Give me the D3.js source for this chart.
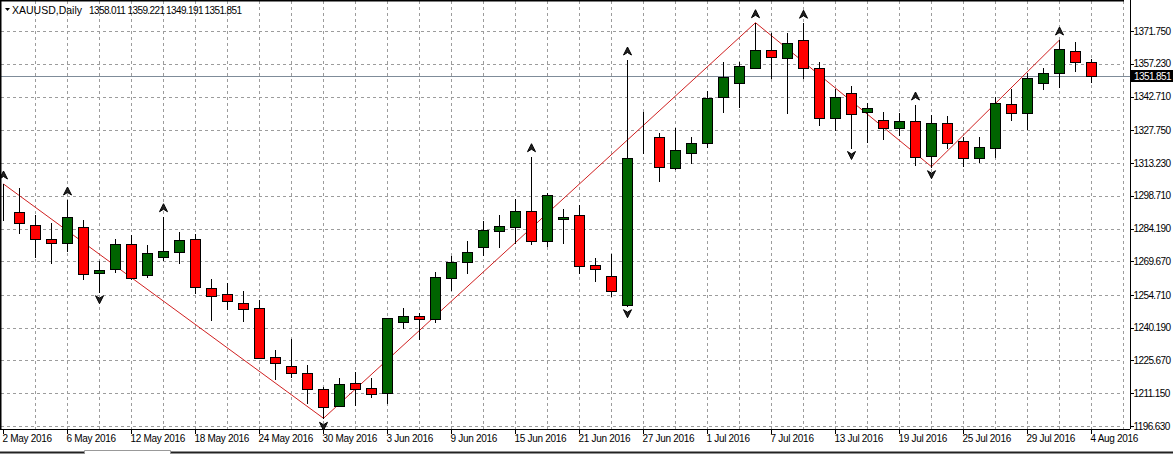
<!DOCTYPE html>
<html>
<head>
<meta charset="utf-8">
<script src="https://cdn.jsdelivr.net/npm/d3@7/dist/d3.min.js"></script>
<style>
  body { margin: 0; background: #fff; }
  svg { display: block; font-family: "Liberation Sans", Arial, sans-serif; }
</style>
</head>
<body>
<svg id="chart" width="1173" height="454"></svg>
<script>
// XAUUSD daily bars, 2 May 2016 .. 4 Aug 2016 (one per trading day)
var opens = [1291.50,1291.50,1285.61,1279.53,1277.63,1284.99,1264.33,1266.10,1277.19,1263.57,
  1271.69,1273.64,1279.40,1257.81,1255.02,1251.03,1248.81,1227.09,1223.23,1219.99,
  1212.90,1205.63,1215.56,1213.34,1211.13,1242.60,1245.40,1243.93,1262.11,1269.20,
  1275.85,1282.95,1284.99,1291.95,1278.78,1288.27,1290.04,1268.14,1263.26,1250.27,
  1324.45,1324.62,1310.88,1317.53,1321.96,1342.36,1348.56,1355.48,1363.33,1359.65,
  1367.76,1355.21,1333.05,1344.13,1335.70,1332.29,1328.61,1331.72,1316.33,1330.83,
  1322.85,1315.31,1319.74,1339.25,1335.26,1348.56,1353.26,1363.02,1358.011];
var highs = [1303.92,1302.01,1290.17,1286.50,1296.82,1287.96,1269.78,1279.40,1281.31,1276.87,
  1289.42,1282.77,1281.75,1261.67,1260.16,1256.48,1252.49,1230.32,1235.07,1223.67,
  1214.05,1218.04,1220.44,1217.78,1244.50,1248.81,1246.59,1264.77,1272.00,1278.65,
  1287.65,1290.17,1297.14,1316.02,1299.80,1292.70,1294.61,1270.98,1272.88,1358.89,
  1335.97,1326.40,1328.61,1324.89,1345.28,1358.14,1358.14,1375.43,1370.73,1371.00,
  1375.20,1358.14,1345.90,1347.37,1339.70,1335.70,1335.26,1338.94,1334.51,1334.07,
  1324.89,1324.70,1342.62,1345.90,1353.00,1355.21,1367.76,1366.74,1359.221];
var lows = [1287.96,1282.33,1271.69,1269.03,1274.35,1261.67,1256.17,1265.04,1261.67,1262.82,
  1270.22,1268.76,1255.46,1243.62,1248.50,1243.31,1226.78,1217.47,1218.49,1206.69,
  1200.04,1205.50,1205.94,1209.62,1206.69,1239.94,1235.07,1242.87,1256.92,1264.59,
  1272.44,1276.12,1277.63,1277.19,1276.43,1277.89,1264.33,1261.05,1254.26,1249.96,
  1317.53,1305.38,1310.50,1313.10,1320.45,1335.97,1338.19,1355.21,1350.78,1335.26,
  1350.78,1330.08,1327.86,1320.10,1322.67,1323.74,1325.64,1312.34,1311.59,1319.74,
  1312.03,1313.81,1316.02,1332.29,1328.17,1345.90,1346.79,1354.15,1349.191];
var closes = [1291.50,1286.50,1279.40,1277.63,1289.16,1263.88,1265.79,1277.19,1262.11,1273.19,
  1274.21,1279.09,1258.39,1254.40,1252.18,1248.63,1226.91,1224.43,1219.99,1212.90,
  1205.19,1215.12,1212.90,1210.68,1244.38,1245.40,1243.93,1262.55,1269.47,1273.64,
  1283.39,1285.30,1291.95,1278.65,1299.04,1289.42,1267.70,1266.10,1256.61,1315.31,
  1324.45,1311.32,1318.99,1321.96,1341.91,1351.22,1356.23,1363.33,1360.09,1366.30,
  1355.21,1333.05,1342.36,1334.82,1337.61,1328.61,1331.72,1315.76,1330.83,1322.23,
  1315.31,1320.19,1339.70,1335.53,1350.78,1353.00,1363.64,1358.14,1351.851];

var dateLabels = ["2 May 2016","6 May 2016","12 May 2016","18 May 2016","24 May 2016","30 May 2016",
  "3 Jun 2016","9 Jun 2016","15 Jun 2016","21 Jun 2016","27 Jun 2016","1 Jul 2016",
  "7 Jul 2016","13 Jul 2016","19 Jul 2016","25 Jul 2016","29 Jul 2016","4 Aug 2016"];
var priceTicks = [1371.750,1357.230,1342.710,1327.750,1313.230,1298.710,1284.190,
  1269.670,1254.710,1240.190,1225.670,1211.150,1196.630];

// zigzag turning bars and fractal bars
var zigzagBars = [0, 20, 47, 58, 66];
var fractalUp = [0, 4, 10, 33, 39, 47, 50, 57, 66];
var fractalDown = [6, 20, 39, 53, 58];

var header = ["1358.011", "1359.221", "1349.191", "1351.851"];
var lastPrice = 1351.851;

var svg = d3.select("#chart"),
    plotRight = 1124,
    plotBottom = 429;

var x = d3.scaleLinear().domain([0, 70]).range([3, 1123]);
var y = d3.scaleLinear().domain([1196.63, 1371.75]).range([426, 31]);

var bars = opens.map(function(o, i) {
  return {i: i, o: o, h: highs[i], l: lows[i], c: closes[i]};
});

svg.append("defs").append("clipPath").attr("id", "plot")
  .append("rect").attr("x", 1).attr("y", 1).attr("width", plotRight - 1).attr("height", plotBottom - 1);

var grid = svg.append("g")
    .attr("stroke", "#9c9c9c")
    .attr("stroke-dasharray", "3,3")
    .attr("shape-rendering", "crispEdges");

grid.selectAll(".vg")
  .data(d3.range(2, 71, 2))
  .enter().append("line")
    .attr("x1", function(d) { return Math.round(x(d)) + 0.5; })
    .attr("x2", function(d) { return Math.round(x(d)) + 0.5; })
    .attr("y1", 1)
    .attr("y2", plotBottom);

grid.selectAll(".hg")
  .data(priceTicks)
  .enter().append("line")
    .attr("x1", 1)
    .attr("x2", 1123)
    .attr("y1", function(d) { return Math.round(y(d)) + 0.5; })
    .attr("y2", function(d) { return Math.round(y(d)) + 0.5; });

// last price line
svg.append("line")
    .attr("x1", 1).attr("x2", 1131)
    .attr("y1", Math.round(y(lastPrice)) + 0.5)
    .attr("y2", Math.round(y(lastPrice)) + 0.5)
    .attr("stroke", "#7f8c99")
    .attr("shape-rendering", "crispEdges");

var plot = svg.append("g").attr("clip-path", "url(#plot)");

// zigzag
var zz = d3.line()
    .x(function(d) { return x(d) + 0.5; })
    .y(function(d, k) { return k % 2 === 0 ? y(highs[d]) : y(lows[d]); });

plot.append("path")
    .datum(zigzagBars)
    .attr("d", zz)
    .attr("fill", "none")
    .attr("stroke", "#d02020")
    .attr("stroke-width", 1);

var candle = plot.selectAll(".candle")
  .data(bars)
  .enter().append("g")
    .attr("class", "candle")
    .attr("shape-rendering", "crispEdges");

candle.append("line")
    .attr("x1", function(d) { return Math.round(x(d.i)) + 0.5; })
    .attr("x2", function(d) { return Math.round(x(d.i)) + 0.5; })
    .attr("y1", function(d) { return Math.round(y(d.h)); })
    .attr("y2", function(d) { return Math.round(y(d.l)) + 1; })
    .attr("stroke", "#000");

candle.append("rect")
    .attr("x", function(d) { return Math.round(x(d.i)) - 5 + 0.5; })
    .attr("y", function(d) { return Math.round(y(Math.max(d.o, d.c))) + 0.5; })
    .attr("width", 10)
    .attr("height", function(d) {
      return Math.round(y(Math.min(d.o, d.c))) - Math.round(y(Math.max(d.o, d.c)));
    })
    .attr("fill", function(d) { return d.c > d.o ? "#006400" : "#ff0000"; })
    .attr("stroke", "#000");

// fractal arrows
function arrow(dir) {
  return dir > 0 ? "M0,-4L4,4L0,1.5L-4,4Z" : "M0,4L4,-4L0,-1.5L-4,-4Z";
}
plot.selectAll(".fup")
  .data(fractalUp)
  .enter().append("path")
    .attr("transform", function(d) { return "translate(" + (x(d) + 0.5) + "," + (y(highs[d]) - 9) + ")"; })
    .attr("d", arrow(1))
    .attr("fill", "#222")
    .attr("stroke", "#000")
    .attr("stroke-width", 1);
plot.selectAll(".fdn")
  .data(fractalDown)
  .enter().append("path")
    .attr("transform", function(d) { return "translate(" + (x(d) + 0.5) + "," + (y(lows[d]) + 8) + ")"; })
    .attr("d", arrow(-1))
    .attr("fill", "#222")
    .attr("stroke", "#000")
    .attr("stroke-width", 1);

// frame
svg.append("path")
    .attr("d", "M0.5," + plotBottom + "V0.5H" + plotRight)
    .attr("fill", "none")
    .attr("stroke", "#000")
    .attr("stroke-width", 2);

// time axis
var xAxis = d3.axisBottom(x)
    .tickValues(d3.range(0, 69, 4))
    .tickFormat(function(d) { return dateLabels[d / 4]; })
    .tickSize(4)
    .tickSizeOuter(0);

var gx = svg.append("g")
    .attr("transform", "translate(0," + (plotBottom + 0.5) + ")")
    .call(xAxis);
gx.select(".domain").remove();
gx.selectAll("line").attr("stroke", "#000").attr("shape-rendering", "crispEdges");
gx.selectAll("text")
    .attr("text-anchor", "start")
    .attr("x", -1)
    .attr("y", 5)
    .attr("dy", "0.71em")
    .attr("fill", "#000")
    .attr("font-size", 10)
    .style("letter-spacing", "-0.3px");
gx.append("line")
    .attr("x1", 0).attr("x2", 1130)
    .attr("stroke", "#000")
    .attr("shape-rendering", "crispEdges");

// price axis
var yAxis = d3.axisRight(y)
    .tickValues(priceTicks)
    .tickFormat(d3.format(".3f"))
    .tickSize(3)
    .tickSizeOuter(0);

var gy = svg.append("g")
    .attr("transform", "translate(1130.5,0)")
    .call(yAxis);
gy.select(".domain").remove();
gy.selectAll("line").attr("stroke", "#000").attr("shape-rendering", "crispEdges");
gy.selectAll("text")
    .attr("x", 3)
    .attr("fill", "#000")
    .attr("font-size", 10)
    .style("letter-spacing", "-0.6px");
gy.append("line")
    .attr("y1", 0).attr("y2", plotBottom)
    .attr("stroke", "#000")
    .attr("shape-rendering", "crispEdges");

// last price tag
var tag = svg.append("g").attr("transform", "translate(1131," + Math.round(y(lastPrice)) + ")");
tag.append("rect")
    .attr("x", 0).attr("y", -6)
    .attr("width", 42).attr("height", 12)
    .attr("fill", "#000");
tag.append("text")
    .attr("x", 3).attr("dy", "0.35em")
    .attr("fill", "#fff")
    .attr("font-size", 10)
    .style("letter-spacing", "-0.6px")
    .text(d3.format(".3f")(lastPrice));

// header
svg.append("path").attr("d", "M5,8H10L7.5,11Z").attr("fill", "#000");
svg.append("text")
    .attr("x", 12).attr("y", 13.5)
    .attr("font-size", 10.5)
    .text("XAUUSD,Daily");
svg.selectAll(".hdr")
  .data(header)
  .enter().append("text")
    .attr("x", function(d, k) { return 89 + k * 38.5; })
    .attr("y", 13.5)
    .attr("font-size", 10)
    .style("letter-spacing", "-0.6px")
    .text(function(d) { return d; });

// bottom tab strip
svg.append("path")
    .attr("d", "M0,452.5H84M171,452.5H1173")
    .attr("stroke", "#222").attr("stroke-width", 2).attr("fill", "none");
svg.append("path")
    .attr("d", "M84.5,454V450.5H170.5V454")
    .attr("stroke", "#999").attr("fill", "none");
</script>
</body>
</html>
